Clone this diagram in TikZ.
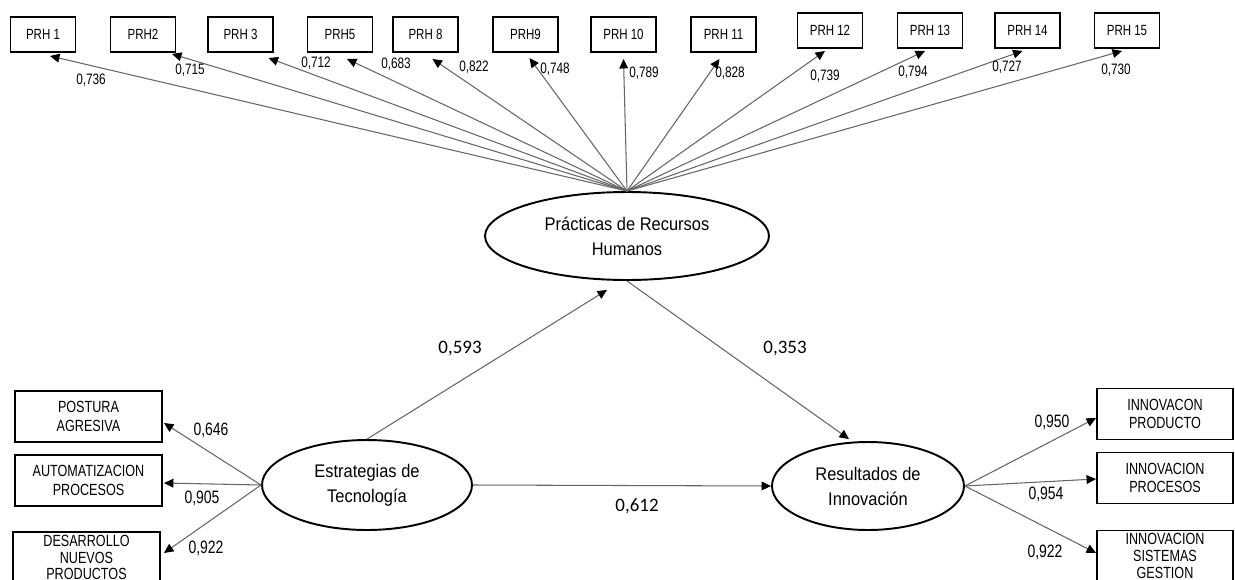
\documentclass[tikz,border=0pt]{standalone}
\usepackage{fontspec}
\usetikzlibrary{shapes.geometric,arrows.meta,calc}

\newfontfamily\narrowfont[FakeStretch=0.78]{Liberation Sans}
\newfontfamily\ellfont[FakeStretch=0.9]{Liberation Sans}
\newfontfamily\coeffont{Carlito}

\tikzset{
  itembox/.style={draw, line width=1.1pt, inner sep=0pt, minimum width=1.3cm, minimum height=0.7cm,
    font=\narrowfont\fontsize{8.4}{9}\selectfont},
  sidebox/.style={draw, line width=1.1pt, inner sep=0pt, align=center, minimum height=1.02cm,
    font=\narrowfont\fontsize{9.2}{10.4}\selectfont},
  latent/.style={ellipse, draw, line width=1.1pt, inner sep=0pt, align=center,
    font=\ellfont\fontsize{10.4}{14.2}\selectfont},
  loadarrow/.style={draw=black!60, line width=0.6pt, -{Triangle[length=5.4pt,width=5pt,color=black]}},
  loadlbl/.style={inner sep=0pt, font=\narrowfont\fontsize{8.6}{9}\selectfont},
  sidelbl/.style={inner sep=0pt, font=\narrowfont\fontsize{10.2}{11}\selectfont},
  coeflbl/.style={inner sep=0pt, font=\coeffont\fontsize{10.8}{12}\selectfont}
}

\begin{document}
\begin{tikzpicture}[x=0.02cm, y=-0.02cm]
    \clip (0,0) rectangle (1235,579);

    % Latent variables
    \node[latent, minimum width=5.68cm, minimum height=1.76cm] (prh) at (627,236) {Prácticas de Recursos\\Humanos};
    \node[latent, minimum width=4.2cm, minimum height=1.8cm] (est) at (367,485) {Estrategias de\\Tecnología};
    \node[latent, minimum width=3.84cm, minimum height=1.76cm] (res) at (868,486) {Resultados de\\Innovación};

    % Indicators of Prácticas de Recursos Humanos
    \node[itembox] (p1) at (43,34.5) {PRH 1};
    \node[itembox] (p2) at (143,34.5) {PRH2};
    \node[itembox] (p3) at (240.5,34.5) {PRH 3};
    \node[itembox] (p5) at (340,34.5) {PRH5};
    \node[itembox] (p8) at (425.5,34.5) {PRH 8};
    \node[itembox] (p9) at (525.5,34.5) {PRH9};
    \node[itembox] (p10) at (623.5,34.5) {PRH 10};
    \node[itembox] (p11) at (723.5,34.5) {PRH 11};
    \node[itembox] (p12) at (830,30.5) {PRH 12};
    \node[itembox] (p13) at (930,30.5) {PRH 13};
    \node[itembox] (p14) at (1027.5,30.5) {PRH 14};
    \node[itembox] (p15) at (1127,30.5) {PRH 15};

    \draw[loadarrow] (prh.north) -- ($(p1.south)+(7,3)$);
    \draw[loadarrow] (prh.north) -- ($(p2.south)+(29,1)$);
    \draw[loadarrow] (prh.north) -- ($(p3.south)+(28,5)$);
    \draw[loadarrow] (prh.north) -- ($(p5.south)+(7,6)$);
    \draw[loadarrow] (prh.north) -- ($(p8.south)+(7,6)$);
    \draw[loadarrow] (prh.north) -- ($(p9.south)+(4,5)$);
    \draw[loadarrow] (prh.north) -- ($(p10.south)+(0,6)$);
    \draw[loadarrow] (prh.north) -- ($(p11.south)+(-4,6)$);
    \draw[loadarrow] (prh.north) -- ($(p12.south)+(-5,2)$);
    \draw[loadarrow] (prh.north) -- ($(p13.south)+(-5,2)$);
    \draw[loadarrow] (prh.north) -- ($(p14.south)+(-5,2)$);
    \draw[loadarrow] (prh.north) -- ($(p15.south)+(-5,2)$);

    \node[loadlbl] (l1) at (91,80) {0,736};
    \node[loadlbl] (l2) at (190,70) {0,715};
    \node[loadlbl] (l3) at (316,63) {0,712};
    \node[loadlbl] (l5) at (396,64) {0,683};
    \node[loadlbl] (l8) at (474,67) {0,822};
    \node[loadlbl] (l9) at (555,69) {0,748};
    \node[loadlbl] (l10) at (644,73) {0,789};
    \node[loadlbl] (l11) at (730,73) {0,828};
    \node[loadlbl] (l12) at (825,76) {0,739};
    \node[loadlbl] (l13) at (913,72) {0,794};
    \node[loadlbl] (l14) at (1007,67) {0,727};
    \node[loadlbl] (l15) at (1116,70) {0,730};

    % Indicators of Estrategias de Tecnología
    \node[sidebox, minimum width=2.94cm] (pa) at (88.5,416.5) {POSTURA\\AGRESIVA};
    \node[sidebox, minimum width=2.94cm] (ap) at (88.5,480.5) {AUTOMATIZACION\\PROCESOS};
    \node[sidebox, minimum width=2.94cm, font=\narrowfont\fontsize{9.2}{9.6}\selectfont] (dn) at (86.5,557.5) {DESARROLLO\\NUEVOS\\PRODUCTOS};

    \draw[loadarrow] (est.west) -- ($(pa.east)+(1,6.5)$);
    \draw[loadarrow] (est.west) -- ($(ap.east)+(1,2.5)$);
    \draw[loadarrow] (est.west) -- ($(dn.east)+(3,-4.5)$);

    \node[sidelbl] (la) at (211,430) {0,646};
    \node[sidelbl] (lb) at (202,498) {0,905};
    \node[sidelbl] (lc) at (206,548) {0,922};

    % Indicators of Resultados de Innovación
    \node[sidebox, minimum width=2.72cm] (ip) at (1165,414) {INNOVACON\\PRODUCTO};
    \node[sidebox, minimum width=2.72cm] (ipr) at (1165,478) {INNOVACION\\PROCESOS};
    \node[sidebox, minimum width=2.72cm, font=\narrowfont\fontsize{9.2}{9.6}\selectfont] (isg) at (1165,556) {INNOVACION\\SISTEMAS\\GESTION};

    \draw[loadarrow] (res.east) -- ($(ip.west)+(0,4)$);
    \draw[loadarrow] (res.east) -- ($(ipr.west)+(0,1)$);
    \draw[loadarrow] (res.east) -- ($(isg.west)+(0,-3)$);

    \node[sidelbl] (ld) at (1052,422) {0,950};
    \node[sidelbl] (le) at (1046,494) {0,954};
    \node[sidelbl] (lf) at (1045,552) {0,922};

    % Structural paths
    \draw[loadarrow] (est.north) -- ($(prh.south)+(-20,9)$);
    \draw[loadarrow] (prh.south) -- ($(res.north)+(-19,-2)$);
    \draw[loadarrow] (est.east) -- (res.west);

    \node[coeflbl] (c1) at (460,349) {0,593};
    \node[coeflbl] (c2) at (785,349) {0,353};
    \node[coeflbl] (c3) at (637,506) {0,612};
\end{tikzpicture}
\end{document}
